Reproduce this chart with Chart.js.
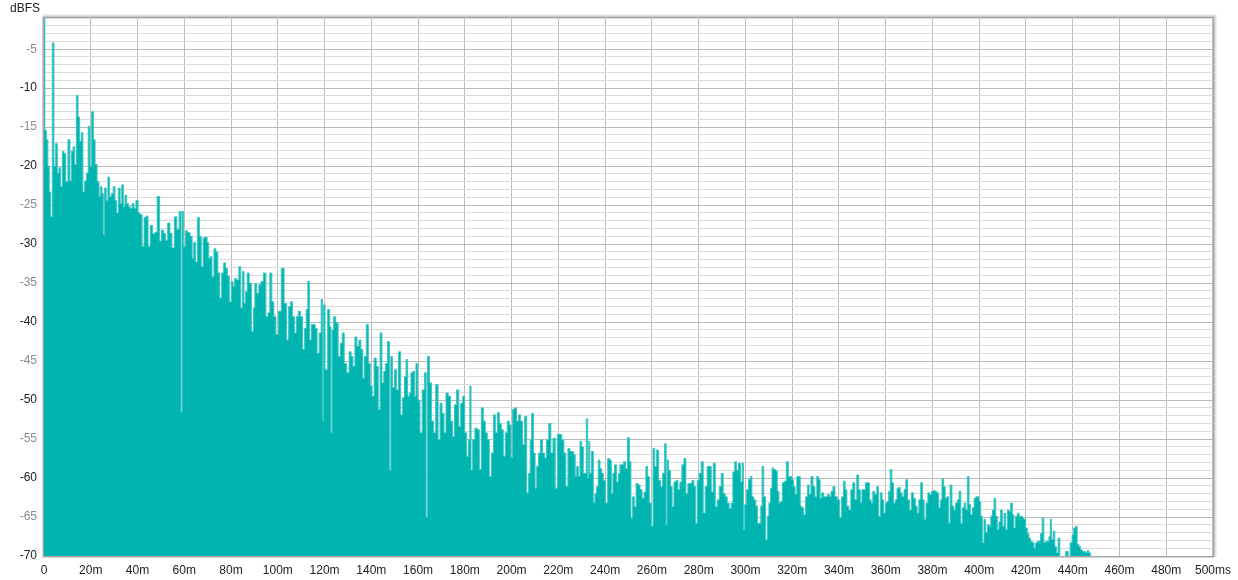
<!DOCTYPE html>
<html><head><meta charset="utf-8">
<script src="https://cdn.jsdelivr.net/npm/chart.js@4"></script>
<style>html,body{margin:0;padding:0;background:#fff;}#wrap{width:1238px;height:580px;}</style>
</head><body><div id="wrap"><canvas id="c" width="1238" height="580"></canvas></div>
<script>
// Time of each reading (ms)
const timesMs = [
0,0.7,1.3,2.0,2.5,3.2,3.9,4.6,5.4,6.0,6.8,7.5,8.2,8.9,9.7,10.8,11.4,12.1,12.8,13.5,14.2,14.9,15.6,16.3,17.0,17.8,18.5,19.3,20.0,20.8,
21.5,22.2,23.2,23.9,24.5,25.1,25.6,26.2,27.0,27.7,28.4,29.2,30.0,30.7,31.4,32.2,32.9,33.6,34.3,35.0,35.7,36.4,37.3,38.1,38.9,39.8,40.7,41.5,42.4,43.2,
44.1,44.9,46.0,46.9,47.7,49.1,49.8,50.6,51.6,52.3,53.5,54.2,55.2,56.3,57.3,58.3,58.9,59.2,60.2,60.9,61.9,63.0,63.7,64.4,65.1,66.1,66.8,67.7,68.4,69.4,
70.1,70.8,71.5,72.2,73.2,73.9,74.8,75.5,76.5,77.2,78.1,78.8,79.7,80.5,81.2,81.9,82.9,83.8,84.5,85.2,85.9,86.5,87.3,88.2,89.2,89.9,90.5,91.5,92.3,93.3,
94.4,95.4,96.2,97.0,97.9,98.7,99.7,100.9,102.1,103.3,104.3,105.0,105.8,106.7,107.5,108.3,109.2,110.1,111.1,111.8,112.5,113.2,113.9,114.7,115.6,116.4,117.2,118.2,118.9,119.3,
119.6,120.8,121.8,122.6,122.9,123.5,124.3,125.3,126.3,127.2,127.9,128.9,130.0,131.0,131.7,132.6,133.4,134.3,135.1,136.0,136.7,137.4,138.3,139.1,140.0,140.7,141.7,142.5,143.4,144.1,
145.0,145.7,146.5,147.4,148.1,148.6,149.5,150.3,151.1,152.1,153.0,153.8,154.5,155.2,155.9,156.6,157.3,158.2,158.7,159.5,160.3,161.3,162.2,163.2,163.7,164.4,165.3,166.1,167.0,168.1,
169.0,169.8,170.7,171.5,172.4,173.4,174.4,175.2,176.0,177.0,177.8,178.7,179.5,180.4,181.2,181.9,182.4,182.9,183.8,184.8,185.8,186.6,187.5,188.3,189.2,190.0,190.9,191.9,192.6,193.5,
194.3,195.2,196.0,196.9,197.7,198.6,199.4,200.1,200.8,201.6,202.6,203.4,204.3,205.1,206.1,206.8,207.7,208.2,209.0,209.7,210.4,211.1,211.9,212.8,213.6,214.5,215.4,216.4,217.2,218.2,
219.1,220.0,221.0,221.9,222.8,223.6,224.6,225.3,226.2,226.9,227.5,228.2,228.9,229.6,230.3,231.0,231.6,232.3,232.8,233.2,233.7,234.6,235.3,236.0,236.7,237.4,238.2,238.9,239.6,240.6,
241.6,242.3,243.0,243.7,244.4,245.3,246.0,246.7,247.4,248.3,249.1,250.0,250.7,251.4,252.1,252.8,253.7,254.5,255.4,256.2,257.1,257.8,258.5,259.3,260.2,260.8,261.6,262.5,263.3,264.2,
265.0,265.9,266.3,266.7,267.6,268.3,269.0,269.9,270.7,271.6,272.4,273.3,274.1,275.0,275.8,276.7,277.6,278.4,279.0,279.8,280.7,281.5,282.4,283.2,284.1,285.0,285.8,286.7,287.5,288.4,
289.2,290.1,290.9,291.8,292.6,293.5,294.3,295.0,295.9,296.6,297.5,298.3,298.9,299.4,300.0,300.9,301.7,302.4,303.2,304.0,304.9,305.4,306.3,306.9,307.4,308.3,309.0,309.7,310.4,311.1,
311.7,312.5,313.3,314.0,314.7,315.4,316.2,317.1,317.9,318.8,319.5,320.2,320.9,321.6,322.4,323.1,323.8,324.5,325.3,326.2,326.9,327.6,328.5,329.3,330.2,330.9,331.6,332.3,333.0,333.9,
334.7,335.6,336.3,337.0,337.9,338.7,339.9,340.7,341.6,342.3,343.0,343.8,344.7,345.5,346.4,347.2,348.1,348.8,349.5,350.2,350.9,351.8,352.7,353.4,354.1,354.9,355.8,356.6,357.3,358.1,
358.8,359.5,360.2,360.9,361.6,362.3,363.0,363.7,364.5,365.2,365.9,366.6,367.4,368.3,369.0,369.7,370.6,371.4,372.3,373.1,373.8,374.6,375.4,376.1,376.8,377.7,378.4,379.1,380.1,380.8,
381.5,382.2,383.0,383.7,384.5,385.1,385.8,386.5,387.2,387.9,388.8,389.5,390.2,391.0,391.8,392.5,393.2,393.9,394.6,395.3,396.0,396.7,397.5,398.2,398.9,399.6,400.3,401.0,401.7,402.4,
403.1,403.9,404.6,405.3,406.0,406.7,407.4,408.1,408.8,409.5,410.3,411.0,411.7,412.4,413.1,413.8,414.5,415.2,415.9,416.7,417.4,418.1,418.8,419.5,420.2,420.9,421.6,422.3,423.1,423.8,
424.5,425.2,425.9,426.6,427.3,428.0,428.8,429.5,430.2,430.6,431.3,432.0,432.7,433.4,434.1,434.9,436.3,437.7,438.4,439.4,440.1,440.8,441.5,442.3,443.0,443.7,444.4,445.1,445.8,446.5,
447.2,448.0,500
];
// Level of each reading (dBFS); -72 = below the -70 floor
const levelsDb = [
-1,-15.4,-16.6,-20,-23.3,-26.5,-4.2,-20,-17.1,-20.9,-20.2,-22.6,-18.1,-18.4,-22,-16.6,-21.9,-18.1,-17.5,-19.8,-10.9,-13.7,-16.8,-15.7,-23.3,-21.9,-20.9,-14.9,-20,-13,
-16.6,-19.8,-22,-23.9,-22.6,-23.5,-28.8,-22.8,-24.4,-21.4,-23.9,-23.5,-22.6,-24.4,-26,-22.8,-24.8,-22.4,-25.2,-23.7,-24.8,-25.2,-25.4,-24.8,-25.4,-24.4,-26,-26.2,-30.3,-26.6,
-26.4,-30.3,-27.6,-28.7,-28.5,-23.9,-29.6,-28.2,-28.6,-29.5,-27.3,-28.6,-30.5,-26.5,-28.1,-25.8,-51.5,-25.8,-30.3,-28.3,-28.5,-29,-31.8,-29.8,-32.3,-26.6,-29,-32.9,-29.2,-29.1,
-29.8,-31.8,-31.6,-34.2,-30.6,-31,-33.7,-36.9,-33.7,-32.4,-33.1,-34.1,-37.4,-34.8,-35.4,-34.4,-34.6,-32.9,-38.2,-33.5,-37.6,-36.1,-33.7,-35,-41.2,-38.2,-35.1,-36.3,-35.2,-34.8,
-33.7,-39.3,-38.8,-33.7,-37.4,-39.3,-41.6,-38.6,-33.1,-37.6,-42.3,-38,-37.4,-39.3,-41.4,-39.3,-38.6,-39.3,-43.5,-40.8,-38.4,-34.8,-42.3,-40.3,-40.3,-40.8,-44,-41.4,-37.1,-52.7,
-37.8,-46.1,-38.4,-40.6,-54.2,-41,-39.3,-40.1,-44.4,-42.7,-41.4,-45.3,-46.5,-43.8,-44.4,-45.7,-41.9,-43.1,-42.3,-43.5,-47.2,-44.4,-40.3,-45.3,-48.2,-49.5,-44.6,-45.7,-51.2,-41.4,
-47.8,-46.3,-45.3,-42.5,-59,-44.4,-48.4,-46.1,-48.7,-43.8,-51.9,-49.7,-47,-44.8,-49.5,-49.1,-46.5,-46.3,-49.5,-45.3,-50,-54.2,-48.7,-46.5,-65,-44.4,-47.8,-52.7,-54.2,-48,
-55.1,-50.4,-51.7,-54.2,-49.1,-49.5,-52.7,-54.7,-50.6,-48.7,-53.4,-50.4,-49.5,-54.2,-57.2,-55.1,-48.2,-59,-55.1,-53.6,-53.8,-58.9,-51,-52.7,-54.2,-55.1,-59.8,-56.8,-51.9,-54.2,
-51.6,-53,-53.8,-57.2,-54.2,-52.7,-53.2,-57.4,-51.2,-51,-52.7,-51.9,-52.7,-55.7,-52.1,-61.9,-59.4,-55.1,-51.7,-56.8,-61.3,-58.5,-56.8,-55.1,-56.8,-57.4,-55.1,-53,-56.8,-54.9,
-61.3,-54.4,-54.4,-55.1,-56.8,-61.1,-56.2,-56.6,-56.6,-57,-59.8,-58.5,-59.8,-55.3,-56,-59.4,-59.4,-52.4,-60,-55.3,-59.4,-56.6,-63.2,-62,-61.1,-57.7,-58.8,-59.4,-60.3,-63.2,
-57.5,-57.7,-62,-59.4,-58.3,-60.5,-59.4,-58.3,-58.3,-57.9,-58.8,-54.8,-57.9,-65.2,-62.4,-63.7,-60.7,-60.9,-61.5,-62.6,-61.8,-58.5,-59.8,-63.2,-66.2,-56.2,-58.5,-56.4,-60.3,-61.1,
-59.4,-55.6,-66,-57.7,-59,-61.1,-63.7,-60.5,-60.3,-61.5,-60.5,-58.3,-57.5,-62,-60.7,-60.7,-60.3,-61.1,-65.8,-60.3,-59.4,-57.9,-64.5,-61.1,-58.5,-58.5,-61.8,-58.1,-63.7,-62.8,
-61.1,-59.4,-62,-62.4,-63.2,-63.9,-63.2,-59.2,-57.9,-59,-58.1,-60.5,-58.1,-66.6,-63.4,-61.5,-60.2,-59.8,-62.4,-62.8,-63.6,-65.8,-65.8,-63.6,-58.5,-62.4,-67.9,-64.9,-63.2,-61.3,
-58.7,-58.9,-59.1,-61.7,-63.2,-63,-60.6,-60.4,-57.9,-59.8,-59.8,-60.2,-61.1,-62.1,-59.8,-59.8,-63.6,-63.8,-64.7,-62.4,-60.9,-62.1,-59.8,-61.1,-62.4,-59.8,-60.2,-62.6,-61.9,-62.4,
-62.4,-62.1,-62.4,-61.7,-61.1,-62.4,-62.8,-65.1,-62.4,-60.4,-61.5,-63.6,-64.1,-61.5,-60.6,-62.8,-59.6,-61.5,-63.2,-61.5,-61.5,-60.6,-60.6,-62.8,-63.2,-61.7,-62.1,-61.1,-64.9,-61.9,
-62.8,-64.5,-63.2,-63,-61.7,-58.9,-60.6,-63.2,-62.8,-61.3,-61.2,-61.9,-62.4,-61.5,-60.2,-62.8,-64.1,-61.9,-62.6,-63.6,-64.5,-62.8,-60.6,-62.8,-65.3,-63.2,-61.9,-62.1,-61.7,-61.6,
-61.7,-61.9,-63.8,-62.8,-60.1,-61.1,-62.6,-62.4,-65.8,-60.9,-63.6,-64.1,-63.2,-62.8,-61.7,-65.8,-63.8,-63.2,-64.1,-59.8,-63.4,-64.7,-63.8,-62.6,-62.4,-62.4,-63,-64.9,-68.3,-65.3,
-67,-66,-66.2,-64.9,-64.1,-62.6,-64.9,-66.6,-65.6,-64.1,-66.2,-64.5,-66.6,-64.1,-64.3,-63.2,-64.7,-66.4,-64.9,-64.5,-64.9,-64.9,-65.1,-65.3,-66.4,-67.1,-67.7,-68.1,-68.3,-69,
-68.3,-68.1,-68.1,-67.1,-65.1,-68.3,-68.1,-68.1,-67.5,-65.3,-67.9,-66.8,-68.8,-69.6,-67.7,-72,-72,-69.4,-72,-68.3,-67.3,-66.4,-66.2,-68.5,-68.8,-69.2,-69.4,-69.4,-69.6,-69.3,
-69.6,-72,-72
];
const xTickStepMs = 20;
const yMinDb = -70, yMaxDb = -1, yLabelStepDb = 5;

const FONT = '"Liberation Sans", Arial, sans-serif';
const points = timesMs.map((t, i) => ({ x: t, y: levelsDb[i] }));

const framePlugin = {
  id: 'frame',
  afterDraw(chart) {
    const { ctx, chartArea: a } = chart;
    ctx.save();
    ctx.strokeStyle = '#e0e0e0';
    ctx.lineWidth = 2;
    ctx.beginPath();
    ctx.moveTo(a.left - 1, a.top - 2.5);
    ctx.lineTo(a.right + 2.5, a.top - 2.5);
    ctx.lineTo(a.right + 2.5, a.bottom + 1);
    ctx.stroke();
    ctx.strokeStyle = '#a6a6a6';
    ctx.lineWidth = 1.5;
    ctx.strokeRect(a.left - 0.75, a.top - 0.75, a.right - a.left + 1.5, a.bottom - a.top + 1.5);
    ctx.fillStyle = '#222';
    ctx.font = '12px ' + FONT;
    ctx.textBaseline = 'alphabetic';
    ctx.fillText('dBFS', 10, 12);
    ctx.restore();
  }
};

new Chart(document.getElementById('c'), {
  type: 'line',
  data: {
    datasets: [{
      data: points,
      stepped: 'middle',
      fill: 'start',
      backgroundColor: '#00b5b0',
      borderColor: '#3ec8c3',
      borderWidth: 1,
      pointRadius: 0,
      tension: 0
    }]
  },
  options: {
    responsive: false,
    animation: false,
    events: [],
    layout: { padding: { left: 0, top: 18, right: 22, bottom: 0 } },
    plugins: { legend: { display: false }, tooltip: { enabled: false } },
    scales: {
      x: {
        type: 'linear', min: 0, max: 500,
        afterFit(s) { s.height = 24; },
        border: { display: false },
        grid: { color: '#bdbdbd', drawTicks: false },
        ticks: {
          stepSize: xTickStepMs, autoSkip: false, maxRotation: 0, padding: 7,
          color: '#222', font: { family: FONT, size: 12 },
          callback: v => v === 0 ? '0' : (v === 500 ? '500ms' : v + 'm')
        }
      },
      y: {
        min: yMinDb, max: yMaxDb,
        afterFit(s) { s.width = 44; },
        border: { display: false },
        grid: {
          drawTicks: false,
          color: c => (c.tick && c.tick.value % yLabelStepDb === 0) ? '#b9b9b9' : '#dadada'
        },
        ticks: {
          stepSize: 1, autoSkip: false, padding: 7,
          font: { family: FONT, size: 12 },
          color: c => (c.tick && c.tick.value % 10 === 0) ? '#222' : '#8a8a8a',
          callback: v => (v % yLabelStepDb === 0) ? String(v) : ''
        }
      }
    }
  },
  plugins: [framePlugin]
});
</script>
</body></html>
